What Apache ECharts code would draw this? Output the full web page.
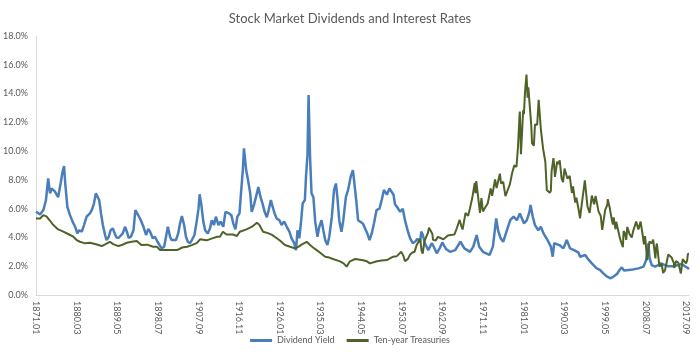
<!DOCTYPE html>
<html><head><meta charset="utf-8">
<script src="https://cdn.jsdelivr.net/npm/echarts/dist/echarts.min.js"></script>
<style>html,body{margin:0;padding:0;background:#fff}#c{width:700px;height:358px}</style>
</head><body><div id="c"></div>
<script>
// Monthly categories 1871.01 .. 2018.05
const categories = [];
for (let y = 1871; y <= 2018; y++) {
  for (let m = 1; m <= 12; m++) {
    if (y === 2018 && m > 5) break;
    categories.push(y + '.' + (m < 10 ? '0' + m : m));
  }
}
const tickLabels = ['1871.01','1880.03','1889.05','1898.07','1907.09','1916.11','1926.01','1935.03','1944.05','1953.07','1962.09','1971.11','1981.01','1990.03','1999.05','2008.07','2017.09'];

const divDates = ['1871.01','1871.12','1872.09','1873.04','1873.10','1874.03','1874.07','1875.04','1876.01','1876.08','1876.12','1877.05','1877.08','1878.02','1878.09','1879.04','1879.11','1880.05','1880.10','1881.05','1881.11','1882.06','1882.11','1883.03','1883.08','1884.02','1884.07','1884.12','1885.04','1885.09','1886.02','1886.08','1886.12','1887.06','1887.11','1888.05','1888.10','1889.03','1889.09','1890.02','1890.08','1891.02','1891.07','1891.12','1892.06','1893.01','1893.06','1893.11','1894.07','1895.04','1895.11','1896.05','1896.10','1897.05','1897.11','1898.06','1898.11','1899.05','1899.12','1900.05','1900.10','1901.04','1901.08','1902.01','1902.08','1903.02','1903.07','1903.12','1904.06','1904.11','1905.04','1905.10','1906.03','1906.10','1907.04','1907.09','1907.12','1908.05','1908.10','1909.03','1909.10','1910.04','1910.09','1911.03','1911.08','1912.03','1912.09','1913.04','1913.10','1914.03','1914.08','1915.02','1915.07','1916.01','1916.06','1916.12','1917.04','1917.09','1917.12','1918.06','1918.11','1919.05','1919.09','1920.03','1920.11','1921.03','1921.09','1922.03','1922.08','1923.02','1923.07','1924.01','1924.06','1924.11','1925.05','1925.12','1926.06','1927.01','1927.08','1928.03','1928.09','1929.04','1929.09','1930.01','1930.06','1930.11','1931.03','1931.09','1931.12','1932.04','1932.07','1932.11','1933.03','1933.08','1934.01','1934.07','1934.12','1935.06','1935.11','1936.04','1936.10','1937.03','1937.10','1938.04','1938.09','1939.01','1939.06','1939.12','1940.05','1940.12','1941.06','1942.01','1942.07','1942.10','1943.04','1943.09','1944.02','1944.10','1945.04','1945.10','1946.04','1946.10','1947.04','1947.11','1948.07','1949.01','1949.07','1950.03','1950.10','1951.03','1951.09','1952.01','1952.07','1953.03','1953.10','1954.04','1954.11','1955.06','1956.01','1956.07','1957.02','1957.09','1957.12','1958.04','1958.10','1959.07','1960.05','1960.11','1961.06','1962.03','1962.09','1963.07','1964.06','1965.08','1966.10','1967.09','1968.12','1969.09','1970.06','1971.01','1971.11','1972.08','1973.05','1974.02','1974.11','1975.04','1975.11','1976.06','1977.04','1978.01','1978.10','1979.07','1980.03','1981.02','1981.10','1982.05','1982.08','1983.02','1983.08','1984.05','1984.12','1985.07','1986.06','1987.03','1987.08','1987.12','1989.02','1990.01','1990.10','1991.07','1992.06','1993.06','1993.10','1994.12','1995.06','1996.06','1997.07','1998.04','1999.01','1999.10','2000.09','2001.04','2002.02','2002.09','2003.03','2003.09','2004.09','2005.10','2006.12','2008.02','2008.09','2009.03','2009.06','2009.12','2010.09','2011.06','2012.01','2012.12','2013.09','2014.11','2015.12','2016.09','2017.06','2018.03','2018.05'];
const divValues = [5.8,5.6,5.9,6.6,8.1,7.06,7.4,7.2,6.8,7.8,8.45,8.96,7.8,6.1,5.55,5.1,4.74,4.28,4.5,4.4,4.86,5.44,5.55,5.68,5.9,6.37,7.06,7.18,6.6,5.67,4.86,4.17,3.82,4.05,4.5,4.63,4.28,4.0,3.98,3.98,4.28,4.74,4.4,3.97,4.05,4.5,5.9,6.0,5.3,4.74,4.17,4.6,4.4,3.94,4.05,3.7,3.82,3.24,3.35,4.05,4.74,4.05,3.82,3.94,3.82,4.28,4.98,5.48,4.86,4.05,3.7,3.6,3.82,4.17,5.1,6.0,7.0,6.2,5.1,4.5,4.28,4.63,5.2,4.86,5.44,4.86,5.1,4.74,5.78,5.9,5.67,5.55,4.98,4.56,5.44,5.67,7.06,8.68,10.19,8.68,8.0,7.06,5.78,6.25,7.06,7.5,6.8,6.3,5.78,5.4,5.9,6.6,6.1,5.67,5.3,5.2,4.86,5.1,4.74,4.4,3.94,3.6,3.12,4.5,3.94,5.2,6.37,6.6,8.22,9.72,13.89,9.6,7.06,6.8,5.1,4.05,4.74,5.2,4.5,3.82,3.47,4.05,5.44,7.3,7.75,6.8,5.2,4.4,5.2,6.8,7.3,8.22,8.68,8.0,6.6,5.2,5.3,4.97,4.63,4.28,3.82,4.28,4.97,5.9,6.0,6.6,7.3,6.97,7.4,7.52,6.97,6.3,6.1,5.78,6.0,5.2,4.5,3.94,3.6,3.7,3.9,3.7,4.4,4.2,3.6,3.12,3.6,3.3,2.9,3.3,3.65,3.2,3.0,3.12,3.7,3.24,3.0,3.36,4.17,3.36,3.0,2.9,2.78,3.36,5.32,4.5,3.94,3.7,4.5,5.2,5.44,5.2,5.67,4.98,5.2,5.78,6.25,5.44,4.86,4.5,4.74,4.28,3.82,3.36,2.66,3.6,3.47,3.24,3.82,3.24,3.12,2.94,2.66,2.78,2.55,2.2,1.85,1.74,1.5,1.3,1.16,1.27,1.46,1.74,1.92,1.7,1.74,1.78,1.85,1.97,2.43,3.59,2.6,2.08,1.97,2.08,2.2,2.08,2.0,2.0,2.08,2.15,2.0,1.85,1.8];

const tsyDates = ['1871.01','1871.12','1872.09','1873.06','1874.03','1874.12','1876.01','1877.03','1878.04','1879.06','1880.03','1880.12','1882.02','1883.03','1884.05','1885.02','1885.11','1886.08','1887.09','1888.06','1889.08','1890.05','1891.07','1892.08','1893.10','1894.10','1896.02','1897.06','1898.05','1899.01','1900.06','1902.11','1904.01','1905.02','1906.03','1907.05','1908.01','1909.07','1910.12','1911.12','1912.07','1913.03','1914.01','1915.06','1916.05','1917.01','1918.07','1918.11','1919.10','1920.11','1921.05','1922.04','1923.05','1924.03','1925.05','1926.03','1927.03','1928.05','1929.06','1930.03','1931.01','1932.02','1932.11','1933.07','1934.05','1935.04','1936.04','1937.03','1938.01','1939.08','1940.06','1941.02','1941.11','1943.01','1944.07','1945.09','1946.05','1947.12','1949.01','1950.03','1951.08','1952.06','1953.06','1953.12','1954.04','1954.12','1955.06','1955.12','1956.06','1956.12','1957.03','1957.09','1958.01','1958.04','1958.09','1958.12','1959.06','1959.09','1960.01','1960.06','1960.08','1961.03','1961.09','1962.03','1962.12','1963.06','1963.12','1964.12','1965.06','1965.12','1966.03','1966.08','1966.12','1967.04','1967.12','1968.03','1968.07','1968.12','1969.06','1969.12','1970.01','1970.03','1970.05','1970.12','1971.03','1971.07','1971.11','1972.06','1972.12','1973.08','1973.12','1974.08','1974.12','1975.02','1975.09','1975.12','1976.06','1976.12','1977.06','1977.12','1978.06','1978.12','1979.06','1979.10','1979.12','1980.02','1980.03','1980.06','1980.12','1981.02','1981.05','1981.09','1981.12','1982.02','1982.06','1982.10','1982.12','1983.05','1983.08','1983.12','1984.02','1984.06','1984.12','1985.06','1985.12','1986.04','1986.08','1986.12','1987.03','1987.05','1987.10','1987.12','1988.02','1988.08','1988.12','1989.03','1989.08','1989.12','1990.04','1990.09','1990.12','1991.06','1991.12','1992.03','1992.09','1992.12','1993.06','1993.10','1993.12','1994.11','1995.06','1995.12','1996.01','1996.06','1996.12','1997.04','1997.12','1998.06','1998.10','1998.12','1999.06','1999.12','2000.01','2000.06','2000.12','2001.03','2001.05','2001.10','2001.12','2002.04','2002.10','2002.12','2003.06','2003.08','2003.12','2004.03','2004.06','2004.12','2005.06','2005.10','2006.06','2006.12','2007.06','2007.12','2008.03','2008.06','2008.12','2009.06','2009.12','2010.04','2010.10','2010.12','2011.02','2011.09','2012.03','2012.07','2012.12','2013.04','2013.09','2013.12','2014.06','2014.12','2015.01','2015.06','2015.12','2016.07','2016.12','2017.03','2017.09','2017.12','2018.02','2018.05'];
const tsyValues = [5.32,5.32,5.55,5.45,5.16,4.86,4.56,4.4,4.24,4.05,3.82,3.7,3.59,3.63,3.54,3.47,3.4,3.52,3.7,3.54,3.4,3.47,3.63,3.7,3.75,3.47,3.5,3.35,3.35,3.12,3.12,3.12,3.3,3.35,3.47,3.62,3.87,3.8,3.95,4.05,4.05,4.4,4.2,4.2,4.1,4.4,4.56,4.63,4.75,5.02,4.9,4.4,4.3,4.2,3.94,3.75,3.47,3.35,3.24,3.35,3.52,3.7,3.47,3.3,3.12,2.9,2.66,2.6,2.5,2.34,2.2,1.97,2.34,2.5,2.43,2.34,2.2,2.34,2.4,2.43,2.66,2.7,3.0,2.7,2.35,2.51,2.82,2.96,3.0,3.5,3.41,3.9,3.09,2.88,3.77,3.86,4.3,4.68,4.72,4.26,3.83,3.78,4.04,3.98,3.87,4.0,4.13,4.18,4.21,4.62,4.63,5.22,4.84,4.55,5.7,5.76,5.5,6.03,6.72,7.65,7.79,7.07,7.91,6.39,5.7,6.73,5.81,6.11,6.36,7.4,6.9,8.04,7.43,7.39,8.43,7.76,7.86,6.87,7.28,7.69,8.46,9.01,8.91,10.3,10.39,12.41,12.75,9.78,12.84,12.57,14.1,15.32,13.72,14.43,14.3,11.74,10.54,10.38,11.85,11.83,11.84,13.56,11.5,10.16,9.26,7.3,7.17,7.11,7.25,8.61,9.52,8.99,8.21,9.26,9.11,9.36,8.11,7.84,8.79,8.89,8.08,8.28,7.09,7.54,6.42,6.77,5.96,5.33,5.77,7.96,6.17,5.71,5.65,6.91,6.3,6.89,5.81,5.5,4.53,4.65,5.9,6.28,6.66,6.1,5.24,4.89,5.39,4.57,5.09,5.21,3.94,4.03,3.33,4.45,4.27,3.83,4.73,4.23,4.0,4.46,5.11,4.56,5.1,4.1,3.51,4.1,2.42,3.72,3.59,3.85,2.54,3.29,3.58,1.98,2.17,1.53,1.72,1.76,2.81,2.9,2.6,2.21,1.88,2.36,2.24,1.5,2.49,2.48,2.2,2.4,2.86,2.85];

const toPairs = (dates, vals) => dates.map((d, i) => [categories.indexOf(d), vals[i]]);

const FONT = 'Lato';
const chart = echarts.init(document.getElementById('c'), null, {renderer: 'canvas'});
chart.setOption({
  animation: false,
  backgroundColor: '#ffffff',
  textStyle: {fontFamily: FONT},
  title: {
    text: 'Stock Market Dividends and Interest Rates',
    left: 'center', top: 7,
    textStyle: {fontFamily: FONT, fontSize: 13, fontWeight: 'normal', color: '#595959'}
  },
  legend: {
    bottom: 8, left: 'center',
    icon: 'rect', itemWidth: 22, itemHeight: 3, itemGap: 12,
    textStyle: {fontFamily: FONT, fontSize: 9, color: '#595959'},
    data: ['Dividend Yield', 'Ten-year Treasuries']
  },
  grid: {left: 36, right: 11, top: 36, bottom: 63, containLabel: false},
  xAxis: {
    type: 'category', data: categories, boundaryGap: false,
    axisLine: {show: true, lineStyle: {color: '#d9d9d9', width: 1}},
    axisTick: {show: false},
    splitLine: {show: false},
    axisLabel: {
      interval: (idx, val) => tickLabels.indexOf(val) >= 0,
      rotate: -90, margin: 6,
      fontFamily: FONT, fontSize: 9, color: '#595959'
    }
  },
  yAxis: {
    type: 'value', min: 0, max: 18, interval: 2,
    axisLine: {show: true, lineStyle: {color: '#d9d9d9', width: 1}},
    axisTick: {show: false},
    splitLine: {show: false},
    axisLabel: {
      formatter: v => v.toFixed(1) + '%', margin: 8,
      fontFamily: FONT, fontSize: 9, color: '#595959'
    }
  },
  series: [
    {
      name: 'Dividend Yield', type: 'line', showSymbol: false, symbol: 'none',
      data: toPairs(divDates, divValues),
      itemStyle: {color: '#4A7EBB'},
      lineStyle: {color: '#4A7EBB', width: 2.5}
    },
    {
      name: 'Ten-year Treasuries', type: 'line', showSymbol: false, symbol: 'none',
      data: toPairs(tsyDates, tsyValues),
      itemStyle: {color: '#4F6228'},
      lineStyle: {color: '#4F6228', width: 2}
    }
  ]
});
</script>
</body></html>
